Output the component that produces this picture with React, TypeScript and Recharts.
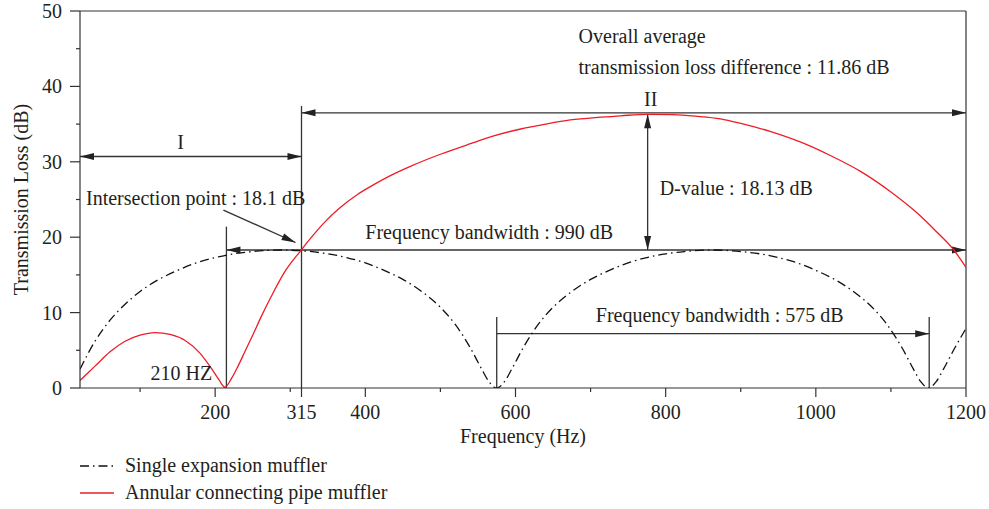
import { LineChart, Line, XAxis, YAxis, ReferenceLine, ReferenceDot } from "recharts";

// Single expansion muffler (dash-dot)
const singleFreq = [20, 40, 60, 80, 100, 125, 150, 175, 200, 225, 250, 287, 315, 350, 375, 400, 425, 450, 475, 500, 520, 540, 555, 565, 575, 585, 595, 610, 630, 650, 675, 700, 725, 750, 775, 800, 825, 862, 900, 925, 950, 975, 1000, 1025, 1050, 1075, 1095, 1115, 1130, 1140, 1150, 1160, 1170, 1185, 1200];
const singleTL = [2.5, 6.2, 9.0, 11.1, 12.8, 14.4, 15.6, 16.6, 17.3, 17.8, 18.1, 18.3, 18.2, 17.8, 17.3, 16.6, 15.6, 14.4, 12.8, 10.7, 8.4, 5.3, 2.5, 0.8, 0, 0.8, 2.5, 5.3, 8.4, 10.7, 12.8, 14.4, 15.6, 16.6, 17.3, 17.8, 18.1, 18.3, 18.1, 17.8, 17.3, 16.6, 15.6, 14.4, 12.8, 10.7, 8.4, 5.3, 2.5, 0.8, 0, 0.8, 2.5, 5.3, 7.9];

// Annular connecting pipe muffler (red)
const annularFreq = [20, 40, 60, 80, 100, 120, 140, 160, 180, 195, 205, 213, 222, 230, 240, 250, 262, 274, 292, 313, 330, 345, 365, 390, 410, 434, 460, 500, 540, 570, 607, 640, 673, 710, 740, 775, 810, 840, 873, 900, 940, 980, 1020, 1060, 1100, 1135, 1160, 1183, 1200];
const annularTL = [1.0, 2.9, 4.8, 6.2, 7.0, 7.35, 7.1, 6.3, 4.6, 2.6, 1.1, 0.1, 1.3, 2.8, 4.9, 7.0, 9.6, 12.0, 15.3, 18.1, 20.2, 21.9, 23.8, 25.7, 26.9, 28.2, 29.4, 31.0, 32.4, 33.4, 34.35, 35.0, 35.55, 35.9, 36.1, 36.3, 36.25, 36.05, 35.7, 35.1, 34.0, 32.6, 30.8, 28.7, 26.0, 23.2, 20.8, 18.4, 16.0];

const xMajorTicks = [200, 315, 400, 600, 800, 1000, 1200];
const xMinorTicks = [100, 300, 500, 700, 900, 1100];
const yMajorTicks = [0, 10, 20, 30, 40, 50];
const yMinorTicks = [5, 15, 25, 35, 45];

const seriesNames = ["Single expansion muffler", "Annular connecting pipe muffler"];

// annotation arrows / guide lines: [x1, y1, x2, y2, headAtStart, headAtEnd]
const guides: [number, number, number, number, boolean, boolean][] = [
  [20, 30.7, 315, 30.7, true, true],
  [315, 36.5, 1200, 36.5, true, true],
  [215, 18.3, 1200, 18.3, true, true],
  [776, 36.3, 776, 18.3, true, true],
  [575, 7.2, 1151, 7.2, false, true],
  [211, 23.6, 307, 19.3, false, true],
  [315, 0, 315, 37.4, false, false],
  [215, 0, 215, 21.4, false, false],
  [575, 0, 575, 9.4, false, false],
  [1151, 0, 1151, 9.4, false, false],
];

// text notes: [text, x, y, anchor]
const notes: [string, number, number, string][] = [
  ["Overall average", 684, 45.7, "start"],
  ["transmission loss difference : 11.86 dB", 684, 41.7, "start"],
  ["II", 780, 37.4, "middle"],
  ["I", 154, 31.7, "middle"],
  ["Intersection point : 18.1 dB", 28, 24.3, "start"],
  ["Frequency bandwidth : 990 dB", 400, 19.8, "start"],
  ["D-value : 18.13 dB", 792, 25.6, "start"],
  ["Frequency bandwidth : 575 dB", 707, 8.8, "start"],
  ["210 HZ", 114, 1.1, "start"],
];

const FONT = "'Liberation Serif', 'Times New Roman', serif";
const TEXT = "#231f20";
const AXIS = "#333333";
const RED = "#ee1c25";

const singleData = singleFreq.map((f, i) => ({ f, tl: singleTL[i] }));
const annularData = annularFreq.map((f, i) => ({ f, tl: annularTL[i] }));

const arrowShape = (startHead: boolean, endHead: boolean) => (p: any) => {
  const { x1, y1, x2, y2 } = p;
  const a = Math.atan2(y2 - y1, x2 - x1);
  const head = (x: number, y: number, ang: number) => {
    const L = 14, W = 3.5;
    const bx = x - L * Math.cos(ang), by = y - L * Math.sin(ang);
    const nx = -Math.sin(ang) * W, ny = Math.cos(ang) * W;
    return <polygon points={`${x},${y} ${bx + nx},${by + ny} ${bx - nx},${by - ny}`} fill="#222" />;
  };
  return (
    <g>
      <line x1={x1} y1={y1} x2={x2} y2={y2} stroke="#333" strokeWidth={1.3} />
      {startHead && head(x1, y1, a + Math.PI)}
      {endHead && head(x2, y2, a)}
    </g>
  );
};

const XTick = (props: any) => {
  const { x, y, payload } = props;
  const v = payload.value;
  const axisY = y - 12;
  const major = xMajorTicks.includes(v);
  return (
    <g>
      <line x1={x} y1={axisY} x2={x} y2={axisY + (major ? 9 : 4)} stroke={AXIS} strokeWidth={1.2} />
      {major && (
        <text x={x} y={axisY + 31} textAnchor="middle" fontSize={20} fontFamily={FONT} fill={TEXT}>
          {v}
        </text>
      )}
    </g>
  );
};

const YTick = (props: any) => {
  const { x, y, payload } = props;
  const v = payload.value;
  const axisX = x + 12;
  const major = yMajorTicks.includes(v);
  return (
    <g>
      <line x1={axisX} y1={y} x2={axisX - (major ? 10 : 4)} y2={y} stroke={AXIS} strokeWidth={1.2} />
      {major && (
        <text x={axisX - 18} y={y + 7} textAnchor="end" fontSize={20} fontFamily={FONT} fill={TEXT}>
          {v}
        </text>
      )}
    </g>
  );
};

export default function App() {
  return (
    <div style={{ position: "absolute", left: 0, top: 0, width: 989, height: 509, background: "#fff" }}>
      <LineChart width={989} height={509} margin={{ top: 11, right: 23, bottom: 81, left: 0 }}>
        <XAxis
          type="number"
          dataKey="f"
          domain={[20, 1200]}
          allowDataOverflow
          ticks={[...xMinorTicks, ...xMajorTicks].sort((a, b) => a - b)}
          interval={0}
          height={40}
          tickSize={10}
          tickMargin={2}
          tickLine={false}
          tick={<XTick />}
          stroke={AXIS}
          strokeWidth={1.2}
          label={{
            content: (p: any) => (
              <text x={p.viewBox.x + p.viewBox.width / 2} y={p.viewBox.y + 55} textAnchor="middle" fontSize={20} fontFamily={FONT} fill={TEXT}>
                Frequency (Hz)
              </text>
            ),
          }}
        />
        <YAxis
          type="number"
          domain={[0, 50]}
          allowDataOverflow
          ticks={[...yMinorTicks, ...yMajorTicks].sort((a, b) => a - b)}
          interval={0}
          width={80}
          tickSize={10}
          tickMargin={2}
          tickLine={false}
          tick={<YTick />}
          stroke={AXIS}
          strokeWidth={1.2}
          label={{
            content: (p: any) => {
              const cx = 28;
              const cy = p.viewBox.y + p.viewBox.height / 2;
              return (
                <text x={cx} y={cy} transform={`rotate(-90, ${cx}, ${cy})`} textAnchor="middle" fontSize={20} fontFamily={FONT} fill={TEXT}>
                  Transmission Loss (dB)
                </text>
              );
            },
          }}
        />
        <ReferenceLine y={50} stroke={AXIS} strokeWidth={1.2} />
        <ReferenceLine x={1200} stroke={AXIS} strokeWidth={1.2} />
        {guides.map((g, i) => (
          <ReferenceLine
            key={`g${i}`}
            segment={[{ x: g[0], y: g[1] }, { x: g[2], y: g[3] }]}
            ifOverflow="visible"
            shape={arrowShape(g[4], g[5])}
          />
        ))}
        <Line
          data={singleData}
          dataKey="tl"
          type="monotone"
          stroke="#111"
          strokeWidth={1.3}
          strokeDasharray="9 4 1.5 4"
          dot={false}
          isAnimationActive={false}
          name={seriesNames[0]}
        />
        <Line
          data={annularData}
          dataKey="tl"
          type="monotone"
          stroke={RED}
          strokeWidth={1.3}
          dot={false}
          isAnimationActive={false}
          name={seriesNames[1]}
        />
        {notes.map((n, i) => (
          <ReferenceDot
            key={`n${i}`}
            x={n[1]}
            y={n[2]}
            r={0}
            stroke="none"
            ifOverflow="visible"
            label={{
              content: (p: any) => (
                <text x={p.viewBox.x} y={p.viewBox.y} textAnchor={n[3] as any} fontSize={20} fontFamily={FONT} fill={TEXT}>
                  {n[0]}
                </text>
              ),
            }}
          />
        ))}
      </LineChart>
      <div style={{ position: "absolute", left: 80, top: 452, fontFamily: FONT, fontSize: 20, color: TEXT }}>
        {seriesNames.map((name, i) => (
          <div key={name} style={{ display: "flex", alignItems: "center", height: 27 }}>
            <svg width={34} height={10} style={{ marginRight: 11 }}>
              <line x1={0} y1={5} x2={34} y2={5} stroke={i === 0 ? "#111" : RED} strokeWidth={1.3} strokeDasharray={i === 0 ? "9 4 1.5 4" : undefined} />
            </svg>
            <span>{name}</span>
          </div>
        ))}
      </div>
    </div>
  );
}
